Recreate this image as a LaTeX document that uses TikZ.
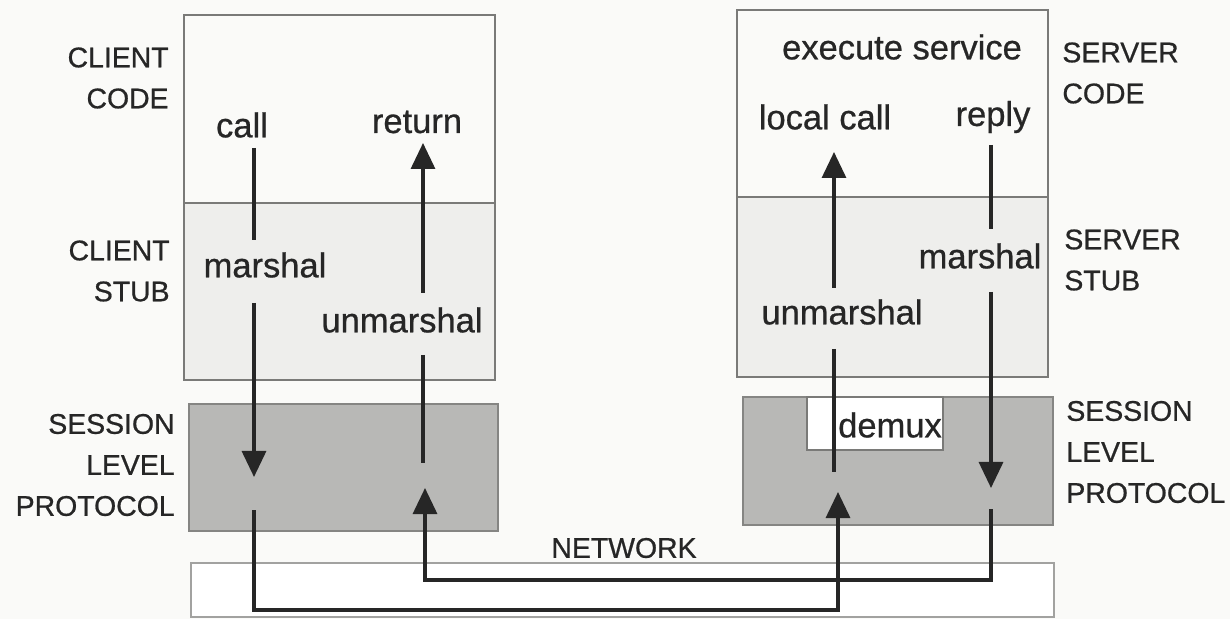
\documentclass[tikz,border=0pt]{standalone}
\usepackage{fontspec}
\setmainfont{Liberation Sans}[FakeBold=0.7]
\usetikzlibrary{arrows.meta}
\definecolor{ink}{HTML}{262626}
\definecolor{paper}{HTML}{FAFAF8}
\definecolor{stubfill}{HTML}{EEEEEC}
\definecolor{sessfill}{HTML}{B8B8B6}
\definecolor{sessedge}{HTML}{858583}
\definecolor{boxedge}{HTML}{7A7A78}
\tikzset{
  layer/.style={draw=boxedge, line width=0.6pt},
  sessbox/.style={fill=sessfill, draw=sessedge, line width=0.8pt},
  oplabel/.style={text=ink, inner sep=0pt, font=\fontsize{17.25}{18}\selectfont},
  sidelabel/.style={text=ink, inner sep=0pt, font=\fontsize{14.2}{20.5}\selectfont},
  flow/.style={draw=ink, line width=1.6pt},
  flowhead/.style={flow, -{Triangle[width=12pt,length=13pt]}}
}
\begin{document}
\begin{tikzpicture}[x=0.5pt, y=-0.5pt]
\useasboundingbox (0,0) rectangle (1230,619);
\fill[paper] (0,0) rectangle (1230,619);

% client side: code and stub layers
\fill[stubfill] (184,203) rectangle (495,380);
\draw[layer] (184,15) rectangle (495,380);
\draw[layer] (184,203) -- (495,203);
% server side: code and stub layers
\fill[stubfill] (737,197) rectangle (1048,377);
\draw[layer] (737,10) rectangle (1048,377);
\draw[layer] (737,197) -- (1048,197);

% session level protocol boxes
\draw[sessbox] (189,404) rectangle (498,531);
\draw[sessbox] (743,397) rectangle (1053,525);
\draw[fill=white, draw=boxedge, line width=0.6pt] (807,397) rectangle (943,450);
\node[oplabel] (demux) at (890,425) {demux};

% network strip
\draw[draw=boxedge!70, fill=white, line width=0.6pt] (191,563) rectangle (1054,617);
\node[sidelabel] (network) at (624,548) {NETWORK};

% side captions
\node[sidelabel, align=right, anchor=east] (ccode) at (169,78) {CLIENT\\CODE};
\node[sidelabel, align=right, anchor=east] (cstub) at (170,271) {CLIENT\\STUB};
\node[sidelabel, align=right, anchor=east] (csess) at (175,465) {SESSION\\LEVEL\\PROTOCOL};
\node[sidelabel, align=left, anchor=west] (scode) at (1062,73) {SERVER\\CODE};
\node[sidelabel, align=left, anchor=west] (sstub) at (1064,260) {SERVER\\STUB};
\node[sidelabel, align=left, anchor=west] (ssess) at (1066,452) {SESSION\\LEVEL\\PROTOCOL};

% operation labels
\node[oplabel] (call) at (242,125) {call};
\node[oplabel] (return) at (417,122) {return};
\node[oplabel] (cmarshal) at (265,265) {marshal};
\node[oplabel] (cunmarshal) at (402,320) {unmarshal};
\node[oplabel] (exec) at (902,47) {execute service};
\node[oplabel] (localcall) at (825,117) {local call};
\node[oplabel] (reply) at (993,117) {reply};
\node[oplabel] (smarshal) at (980,256) {marshal};
\node[oplabel] (sunmarshal) at (842,312) {unmarshal};

% flow end points
\coordinate (c1a) at (254,148); \coordinate (c1b) at (254,240);
\coordinate (c1c) at (254,303); \coordinate (c1d) at (254,477);
\coordinate (c1e) at (254,510); \coordinate (c1f) at (254,610);
\coordinate (c2a) at (423,293); \coordinate (c2b) at (423,143);
\coordinate (c2c) at (423,355); \coordinate (c2d) at (423,463);
\coordinate (c2e) at (425,580); \coordinate (c2f) at (425,488);
\coordinate (s1a) at (834,288); \coordinate (s1b) at (834,152);
\coordinate (s1c) at (834,349); \coordinate (s1d) at (834,472);
\coordinate (s1e) at (838,610); \coordinate (s1f) at (838,492);
\coordinate (s2a) at (991,145); \coordinate (s2b) at (991,229);
\coordinate (s2c) at (991,292); \coordinate (s2d) at (991,488);
\coordinate (s2e) at (991,509); \coordinate (s2f) at (991,580);

% client request path
\draw[flow] (c1a) -- (c1b);
\draw[flowhead] (c1c) -- (c1d);
\draw[flowhead] (c1e) -- (c1f) -- (s1e) -- (s1f);
% server receive path
\draw[flow] (s1c) -- (s1d);
\draw[flowhead] (s1a) -- (s1b);
% server reply path
\draw[flow] (s2a) -- (s2b);
\draw[flowhead] (s2c) -- (s2d);
\draw[flowhead] (s2e) -- (s2f) -- (c2e) -- (c2f);
% client return path
\draw[flow] (c2c) -- (c2d);
\draw[flowhead] (c2a) -- (c2b);
\end{tikzpicture}
\end{document}
